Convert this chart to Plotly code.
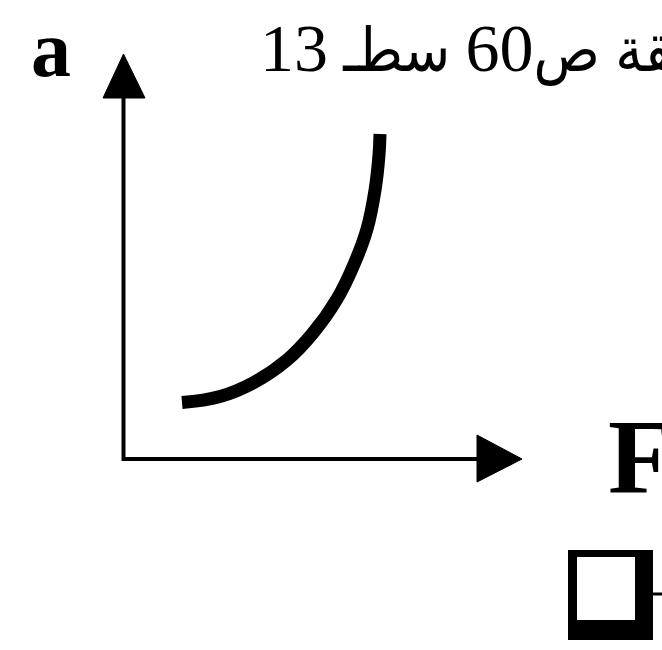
import plotly.graph_objects as go

# Acceleration a versus force F (arbitrary units, axes start at the origin)
force = [1.45, 2.4, 3.225, 4.075, 4.725, 5.325, 5.775, 6.075, 6.275, 6.375, 6.4]
accel = [1.41, 1.56, 1.9, 2.475, 3.15, 4.0, 4.925, 5.75, 6.72, 7.6, 8.125]

y_label = "a"
x_label = "F"
# caption line: Arabic words with the page / line numbers
caption_words = ["الوثيقة ص", "60", " سطـ ", "13"]

W, H = 662, 650
PX_PER_UNIT = 40.0
ORIGIN_PX = (124.0, 459.0)

x_range = [-ORIGIN_PX[0] / PX_PER_UNIT, (W - ORIGIN_PX[0]) / PX_PER_UNIT]
y_range = [-(H - ORIGIN_PX[1]) / PX_PER_UNIT, ORIGIN_PX[1] / PX_PER_UNIT]


def ux(px):
    return (px - ORIGIN_PX[0]) / PX_PER_UNIT


def uy(py):
    return (ORIGIN_PX[1] - py) / PX_PER_UNIT


def path(points):
    return "M " + " L ".join(f"{ux(a)},{uy(b)}" for a, b in points) + " Z"


fig = go.Figure()
fig.add_trace(go.Scatter(
    x=force, y=accel, mode="lines",
    line=dict(color="black", width=13, shape="spline", smoothing=1.2),
    hoverinfo="skip", showlegend=False,
))

shapes = [
    # axes
    dict(type="line", xref="x", yref="y", x0=ux(123.5), y0=uy(461), x1=ux(123.5), y1=uy(96),
         line=dict(color="black", width=4)),
    dict(type="line", xref="x", yref="y", x0=ux(122), y0=uy(459), x1=ux(479), y1=uy(459),
         line=dict(color="black", width=4)),
    # arrow heads
    dict(type="path", xref="x", yref="y", path=path([(123.5, 54), (145, 98), (103, 98)]),
         fillcolor="black", line=dict(color="black", width=1)),
    dict(type="path", xref="x", yref="y", path=path([(522, 459), (477, 482), (477, 435)]),
         fillcolor="black", line=dict(color="black", width=1)),
    # check box with shadow
    dict(type="rect", xref="x", yref="y", x0=ux(568), y0=uy(640), x1=ux(653), y1=uy(550),
         fillcolor="black", line=dict(width=0)),
    dict(type="rect", xref="x", yref="y", x0=ux(577), y0=uy(620), x1=ux(635), y1=uy(557),
         fillcolor="white", line=dict(width=0)),
    dict(type="line", xref="x", yref="y", x0=ux(653), y0=uy(594), x1=ux(662), y1=uy(594),
         line=dict(color="black", width=3)),
]

arabic = "<span style='font-size:61px'>{}</span>"
caption = (arabic.format(caption_words[0]) + caption_words[1]
           + arabic.format(caption_words[2]) + caption_words[3])

annotations = [
    dict(text=f"<b>{y_label}</b>", xref="paper", yref="paper", x=29 / W, y=1 - 49 / H,
         xanchor="left", yanchor="middle", showarrow=False,
         font=dict(family="Liberation Serif", size=80, color="black")),
    dict(text=f"<b>{x_label}</b>", xref="paper", yref="paper", x=606 / W, y=1 - 457 / H,
         xanchor="left", yanchor="middle", showarrow=False,
         font=dict(family="Liberation Serif", size=106, color="black")),
    dict(text=caption, xref="paper", yref="paper", x=258 / W, y=1 - 48 / H,
         xanchor="left", yanchor="middle", showarrow=False,
         font=dict(family="Liberation Serif, DejaVu Sans Condensed, DejaVu Sans", size=68,
                   color="black")),
]

fig.update_layout(
    width=W, height=H,
    margin=dict(l=0, r=0, t=0, b=0),
    paper_bgcolor="white", plot_bgcolor="white",
    xaxis=dict(range=x_range, visible=False, fixedrange=True),
    yaxis=dict(range=y_range, visible=False, fixedrange=True),
    shapes=shapes, annotations=annotations,
    showlegend=False,
)

fig.write_html("out.html", config={"displayModeBar": False})
